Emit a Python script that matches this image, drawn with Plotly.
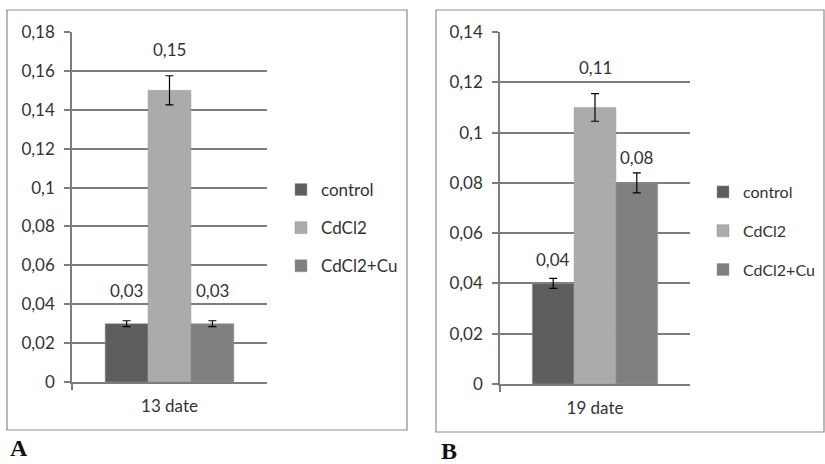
import plotly.graph_objects as go

dates = ["13 date", "19 date"]
series = ["control", "CdCl2", "CdCl2+Cu"]
colors = ["#5e5e5e", "#ababab", "#7f7f7f"]
vals_13 = [0.03, 0.15, 0.03]
errs_13 = [0.0015, 0.0075, 0.0015]
vals_19 = [0.04, 0.11, 0.08]
errs_19 = [0.002, 0.0055, 0.004]
yticks_13 = [0, 0.02, 0.04, 0.06, 0.08, 0.1, 0.12, 0.14, 0.16, 0.18]
yticks_19 = [0, 0.02, 0.04, 0.06, 0.08, 0.1, 0.12, 0.14]
panel_letters = ["A", "B"]
# label offsets above error bars (pixels, style only)
label_shift_13 = [18, 14, 18]
label_shift_19 = [6, 14, 3]

W, H = 825, 464
FONT = "Lato"
TXT = "#333333"
GRID = "#7d7d7d"


def fmt(v):
    s = ("%g" % v)
    return s.replace(".", ",")


fig = go.Figure()

panels = [
    dict(date=dates[0], vals=vals_13, errs=errs_13, shift=label_shift_13, xa="x", ya="y", leg="legend"),
    dict(date=dates[1], vals=vals_19, errs=errs_19, shift=label_shift_19, xa="x2", ya="y2", leg="legend2"),
]

for p in panels:
    for j, name in enumerate(series):
        fig.add_trace(go.Bar(
            x=[p["date"]], y=[p["vals"][j]], name=name,
            marker=dict(color=colors[j], line=dict(color="#9a9a9a", width=0.5)),
            error_y=dict(type="data", array=[p["errs"][j]], color="black", thickness=1.2, width=4),
            xaxis=p["xa"], yaxis=p["ya"], legend=p["leg"],
            legendgroup=p["leg"] + name,
        ))

bargap = 0.34
bw = (1 - bargap) / 3
annotations = []
for p in panels:
    for j in range(3):
        annotations.append(dict(
            x=(j - 1) * bw, y=p["vals"][j] + p["errs"][j], xref=p["xa"], yref=p["ya"],
            text=fmt(p["vals"][j]), showarrow=False, yanchor="bottom", yshift=p["shift"][j],
            font=dict(family=FONT, size=17, color=TXT)))

annotations += [
    dict(x=8 / W, y=1 - 448 / H, xref="paper", yref="paper", xanchor="left", yanchor="middle",
         text="<b>%s</b>" % panel_letters[0], showarrow=False,
         font=dict(family="Liberation Serif", size=24, color="#111")),
    dict(x=439 / W, y=1 - 451 / H, xref="paper", yref="paper", xanchor="left", yanchor="middle",
         text="<b>%s</b>" % panel_letters[1], showarrow=False,
         font=dict(family="Liberation Serif", size=24, color="#111")),
]

shapes = [
    dict(type="rect", xref="paper", yref="paper", x0=7 / W, x1=407 / W, y0=1 - 430 / H, y1=1 - 10 / H,
         line=dict(color="#8c8c8c", width=1.2)),
    dict(type="rect", xref="paper", yref="paper", x0=436 / W, x1=824 / W, y0=1 - 432 / H, y1=1 - 10 / H,
         line=dict(color="#8c8c8c", width=1.2)),
]

yax_common = dict(showgrid=True, gridcolor=GRID, gridwidth=1.5, showline=True, linecolor=GRID,
                  linewidth=1.5, ticks="outside", ticklen=6, tickcolor=GRID, tickwidth=1.5,
                  zeroline=False, automargin=False,
                  tickfont=dict(family=FONT, size=17, color=TXT), ticklabelstandoff=6, fixedrange=True)
xax_common = dict(type="category", showline=True, linecolor=GRID, linewidth=1.5, ticks="outside",
                  ticklen=6, tickwidth=1.5, automargin=False,
                  tickcolor=GRID, tickson="boundaries", range=[-0.5, 0.5],
                  tickfont=dict(family=FONT, size=17, color=TXT), ticklabelstandoff=8, fixedrange=True)

leg_common = dict(traceorder="grouped", bgcolor="rgba(0,0,0,0)", xanchor="left", yanchor="middle")

fig.update_layout(
    width=W, height=H, margin=dict(l=0, r=0, t=0, b=0, pad=0, autoexpand=False),
    paper_bgcolor="white", plot_bgcolor="white",
    barmode="group", bargap=bargap, bargroupgap=0,
    xaxis=dict(domain=[72 / W, 267 / W], anchor="y", **xax_common),
    yaxis=dict(domain=[1 - 382 / H, 1 - 32 / H], anchor="x", range=[0, 0.18],
               tickvals=yticks_13, ticktext=[fmt(v) for v in yticks_13], **yax_common),
    xaxis2=dict(domain=[500 / W, 690 / W], anchor="y2", **xax_common),
    yaxis2=dict(domain=[1 - 384 / H, 1 - 32 / H], anchor="x2", range=[0, 0.14],
                tickvals=yticks_19, ticktext=[fmt(v) for v in yticks_19], **yax_common),
    legend=dict(x=281 / W, y=1 - 228 / H, font=dict(family=FONT, size=17, color=TXT),
                tracegroupgap=13, **leg_common),
    legend2=dict(x=703 / W, y=1 - 231 / H, font=dict(family=FONT, size=16, color=TXT),
                 tracegroupgap=15, **leg_common),
    annotations=annotations, shapes=shapes, showlegend=True,
)

fig.write_html("out.html", config={"displayModeBar": False},
               post_script="document.body.style.margin='0';")
